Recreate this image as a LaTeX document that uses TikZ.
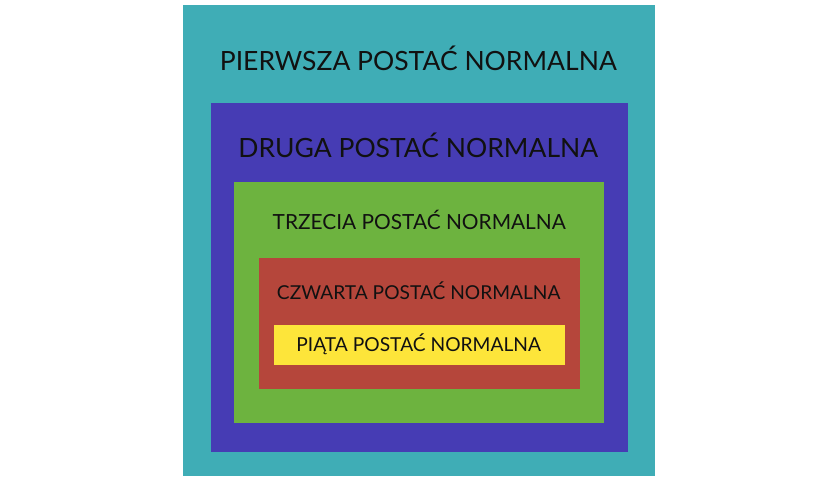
\documentclass[tikz,border=0pt]{standalone}
\usepackage{fontspec}
\setmainfont{Lato}
\definecolor{cteal}{HTML}{3FADB6}
\definecolor{cblue}{HTML}{463CB4}
\definecolor{cgreen}{HTML}{6DB33F}
\definecolor{cred}{HTML}{B5463B}
\definecolor{cyellow}{HTML}{FDE53A}
\definecolor{ctext}{HTML}{111111}
\begin{document}
\begin{tikzpicture}[x=1pt,y=-1pt,
  level/.style={rectangle, inner sep=0pt, draw=none},
  lbl/.style={inner sep=0pt, anchor=base, text=ctext}]
\useasboundingbox[fill=white] (0,0) rectangle (840,480);
\node[level, fill=cteal, minimum width=472pt, minimum height=471pt] (l1) at (419.3,240) {};
\node[level, fill=cblue, minimum width=417.3pt, minimum height=349pt] (l2) at (419.35,277.8) {};
\node[level, fill=cgreen, minimum width=369.7pt, minimum height=241pt] (l3) at (419.15,302.2) {};
\node[level, fill=cred, minimum width=320.7pt, minimum height=131.6pt] (l4) at (419.35,323.5) {};
\node[level, fill=cyellow, minimum width=291pt, minimum height=40pt] (l5) at (419.5,345) {};
\node[lbl, font=\fontsize{26.5}{30}\selectfont] (t1) at (418.3,70.7) {PIERWSZA POSTAĆ NORMALNA};
\node[lbl, font=\fontsize{26.5}{31}\selectfont] (t2) at (418.3,157.7) {DRUGA POSTAĆ NORMALNA};
\node[lbl, font=\fontsize{20.85}{24}\selectfont] (t3) at (419.3,229.3) {TRZECIA POSTAĆ NORMALNA};
\node[lbl, font=\fontsize{19.16}{23}\selectfont] (t4) at (418.7,299.3) {CZWARTA POSTAĆ NORMALNA};
\node[lbl, font=\fontsize{19.2}{22}\selectfont] (t5) at (418.7,351.7) {PIĄTA POSTAĆ NORMALNA};
\end{tikzpicture}
\end{document}
